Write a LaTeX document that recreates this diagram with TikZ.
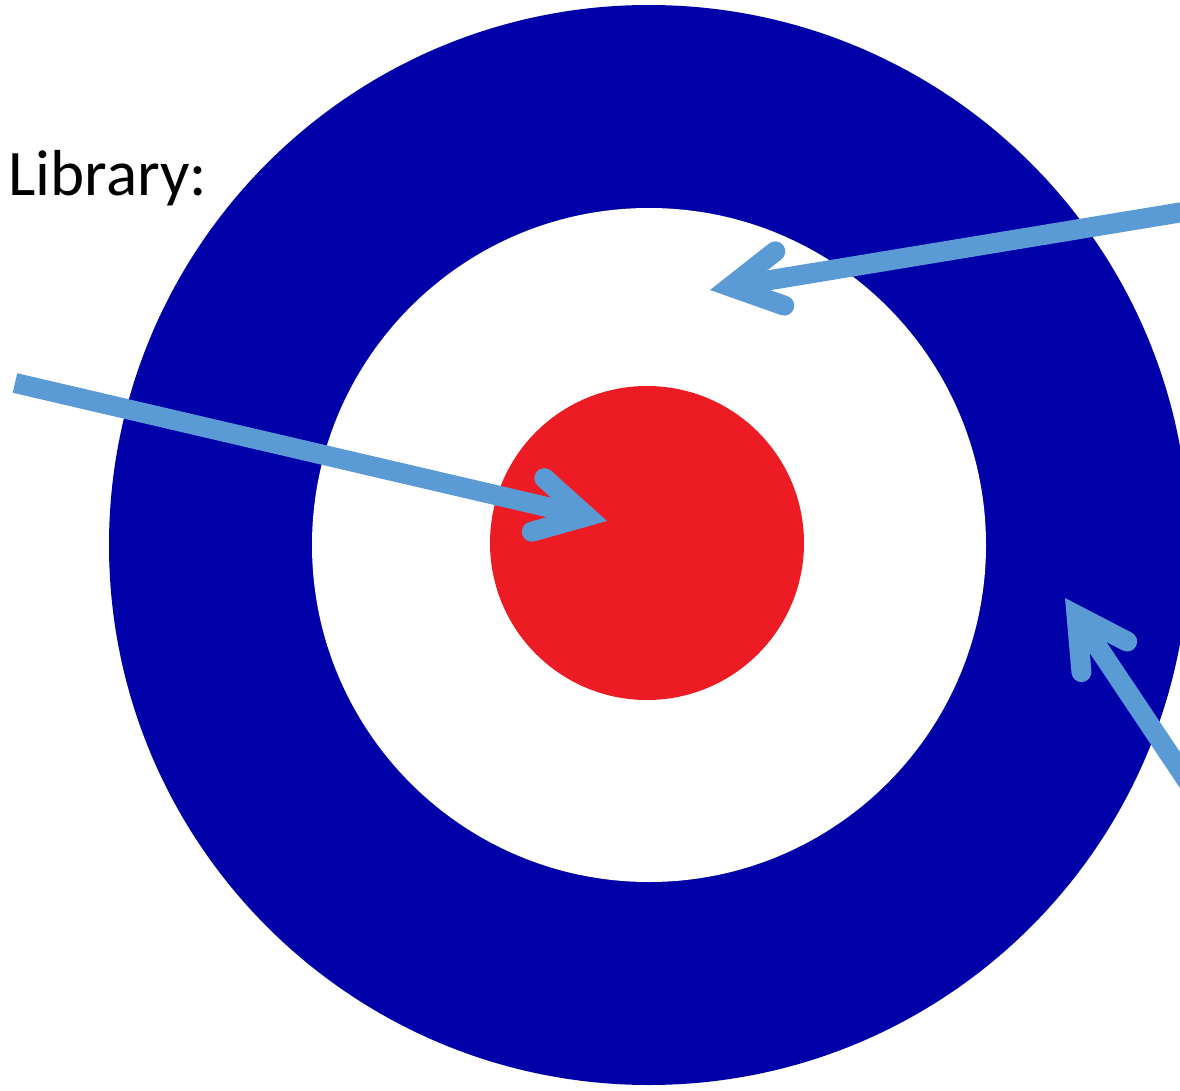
\documentclass[tikz,border=0pt]{standalone}
\usepackage{fontspec}
\setmainfont{Carlito}
\usetikzlibrary{arrows.meta}
\definecolor{ringblue}{RGB}{0, 0, 168}
\definecolor{bullred}{RGB}{237, 28, 36}
\definecolor{pointblue}{RGB}{91, 155, 213}

\begin{document}
\begin{tikzpicture}
  \useasboundingbox (0, 0) rectangle (11.8, 10.9);
  \clip (0, 0) rectangle (11.8, 10.9);
  \tikzset{
    ring/.style={circle, inner sep=0pt},
    pointer/.style={draw=pointblue, line width=0.2cm,
      -{Straight Barb[length=0.5cm, width=0.55cm, line cap=round, line join=miter]}}
  }

  % Target: outer blue ring, white ring, red bull (centre at x=6.49, y=5.45)
  \node[ring, fill=ringblue, minimum size=10.8cm] (outer) at (6.49, 5.45) {};
  \node[ring, fill=white, minimum size=6.74cm] (middle) at (6.49, 5.45) {};
  \node[ring, fill=bullred, minimum size=3.14cm] (bull) at (6.47, 5.47) {};

  % Label, partly cut off by the left edge
  \node[anchor=base east, inner sep=0pt, font=\fontsize{18.5pt}{20pt}\selectfont] (lbl) at (2.08, 8.95) {Library:};

  % Arrow ends and tips
  \coordinate (bullfrom) at (0.15, 7.07);
  \coordinate (bulltip) at (6.07, 5.69);
  \coordinate (whitefrom) at (11.95, 8.80);
  \coordinate (whitetip) at (7.10, 8.00);
  \coordinate (bluefrom) at (12.00, 2.90);
  \coordinate (bluetip) at (10.65, 4.92);

  % Arrows
  \draw[pointer] (bullfrom) -- (bulltip);
  \draw[pointer] (whitefrom) -- (whitetip);
  \draw[pointer] (bluefrom) -- (bluetip);
\end{tikzpicture}
\end{document}
